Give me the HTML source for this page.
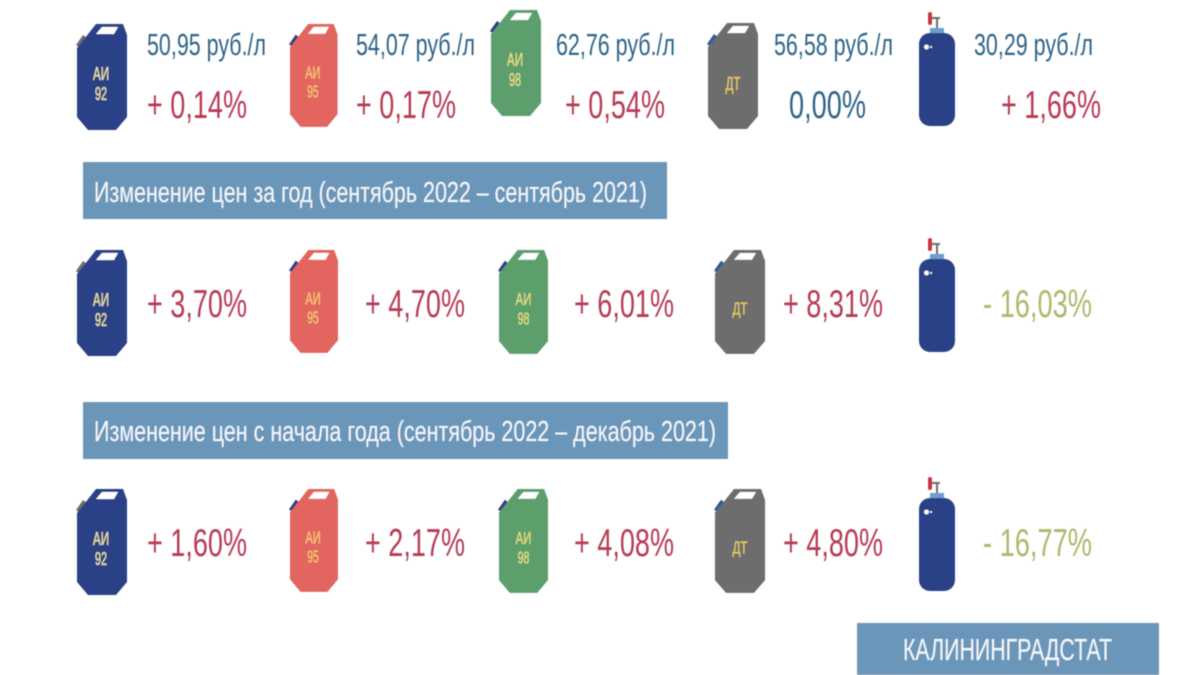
<!DOCTYPE html>
<html lang="ru">
<head>
<meta charset="utf-8">
<title>Цены на топливо</title>
<style>
html,body{margin:0;padding:0;background:#fff;width:1200px;height:675px;overflow:hidden}
svg{display:block}
text{font-family:"Liberation Sans","Noto Sans CJK SC",sans-serif}
.price{font-size:31px;fill:#2f6488}
.pct{font-size:39px}
.red{fill:#b83a55}
.blue{fill:#2f6488}
.green{fill:#a9bb6c}
.banner{fill:#6b96ba}
.btext{font-size:29px;fill:#f4f7fa}
.lab{font-size:18px;text-anchor:middle;stroke-width:.35px;paint-order:stroke}
</style>
</head>
<body>
<svg width="1200" height="675" viewBox="0 0 1200 675" xmlns="http://www.w3.org/2000/svg">
<defs>
<filter id="soft" x="-5%" y="-5%" width="110%" height="110%"><feGaussianBlur stdDeviation="0.5"/></filter>
<g id="can-body">
<path d="M0 24 L0 93 L11 106 L39 106 L50 93 L50 11 L46 0 L19 0 L8 14 Z"/>
<path d="M19 10 L25 3 L41 3 L37 10 Z" fill="#fff"/>
</g>
<path id="nozzle" d="M3 24 L-1 21 L6 11 L10 14 Z"/>
<g id="cylinder">
<rect x="9" y="0" width="4" height="13" rx="2" fill="#c9363f"/>
<rect x="17" y="5" width="2" height="12" fill="#6d6d6d"/>
<rect x="13" y="5" width="8" height="2" fill="#6d6d6d"/>
<rect x="11" y="16" width="14" height="6" fill="#6c9fd0"/>
<rect x="0" y="21" width="36" height="93" rx="11" fill="#2b4087"/>
<circle cx="7.5" cy="35" r="2.4" fill="#fff"/>
<circle cx="12" cy="35" r="1" fill="#fff"/>
</g>
</defs>
<rect width="1200" height="675" fill="#fff"/>
<g filter="url(#soft)">

<!-- Row 1 -->
<g>
<g transform="translate(77 24)"><use href="#nozzle" fill="#6d6d6d"/><use href="#can-body" fill="#2b4087"/><text class="lab" x="24" y="56" fill="#e6dfa0" stroke="#e6dfa0" textLength="16" lengthAdjust="spacingAndGlyphs">АИ</text><text class="lab" x="24" y="76" fill="#e6dfa0" stroke="#e6dfa0" textLength="12" lengthAdjust="spacingAndGlyphs">92</text></g>
<g transform="translate(290 24) scale(.95 .97)"><use href="#nozzle" fill="#2b4087"/><use href="#can-body" fill="#e2655e"/><text class="lab" x="24" y="56" fill="#f4c472" stroke="#f4c472" textLength="16" lengthAdjust="spacingAndGlyphs">АИ</text><text class="lab" x="24" y="76" fill="#f4c472" stroke="#f4c472" textLength="12" lengthAdjust="spacingAndGlyphs">95</text></g>
<g transform="translate(491 10)"><use href="#nozzle" fill="#2b4087"/><use href="#can-body" fill="#5b9f6c"/><text class="lab" x="24" y="56" fill="#e6dc82" stroke="#e6dc82" textLength="16" lengthAdjust="spacingAndGlyphs">АИ</text><text class="lab" x="24" y="76" fill="#e6dc82" stroke="#e6dc82" textLength="12" lengthAdjust="spacingAndGlyphs">98</text></g>
<g transform="translate(708 23)"><use href="#nozzle" fill="#2b5c9f"/><use href="#can-body" fill="#6d6d6d"/><text class="lab" x="25" y="67" fill="#e6c860" stroke="#e6c860" textLength="15" lengthAdjust="spacingAndGlyphs">ДТ</text></g>
<use href="#cylinder" x="919" y="12"/>

<text class="price" x="147" y="55" textLength="119" lengthAdjust="spacingAndGlyphs">50,95 руб./л</text>
<text class="price" x="356" y="55" textLength="119" lengthAdjust="spacingAndGlyphs">54,07 руб./л</text>
<text class="price" x="556" y="55" textLength="119" lengthAdjust="spacingAndGlyphs">62,76 руб./л</text>
<text class="price" x="774" y="55" textLength="119" lengthAdjust="spacingAndGlyphs">56,58 руб./л</text>
<text class="price" x="974" y="55" textLength="119" lengthAdjust="spacingAndGlyphs">30,29 руб./л</text>

<text class="pct red" x="147" y="118" textLength="100" lengthAdjust="spacingAndGlyphs">+ 0,14%</text>
<text class="pct red" x="356" y="118" textLength="100" lengthAdjust="spacingAndGlyphs">+ 0,17%</text>
<text class="pct red" x="565" y="118" textLength="100" lengthAdjust="spacingAndGlyphs">+ 0,54%</text>
<text class="pct blue" x="789" y="118" textLength="77" lengthAdjust="spacingAndGlyphs">0,00%</text>
<text class="pct red" x="1001" y="118" textLength="100" lengthAdjust="spacingAndGlyphs">+ 1,66%</text>
</g>

<!-- Banner 1 -->
<rect class="banner" x="83" y="162" width="584" height="57"/>
<text class="btext" x="94" y="202" textLength="553" lengthAdjust="spacingAndGlyphs">Изменение цен за год (сентябрь 2022 – сентябрь 2021)</text>

<!-- Row 2 -->
<g>
<g transform="translate(77 250)"><use href="#nozzle" fill="#6d6d6d"/><use href="#can-body" fill="#2b4087"/><text class="lab" x="24" y="56" fill="#e6dfa0" stroke="#e6dfa0" textLength="16" lengthAdjust="spacingAndGlyphs">АИ</text><text class="lab" x="24" y="76" fill="#e6dfa0" stroke="#e6dfa0" textLength="12" lengthAdjust="spacingAndGlyphs">92</text></g>
<g transform="translate(290 250) scale(.96 .97)"><use href="#nozzle" fill="#2b4087"/><use href="#can-body" fill="#e2655e"/><text class="lab" x="24" y="56" fill="#f4c472" stroke="#f4c472" textLength="16" lengthAdjust="spacingAndGlyphs">АИ</text><text class="lab" x="24" y="76" fill="#f4c472" stroke="#f4c472" textLength="12" lengthAdjust="spacingAndGlyphs">95</text></g>
<g transform="translate(499 250) scale(.98)"><use href="#nozzle" fill="#2b4087"/><use href="#can-body" fill="#5b9f6c"/><text class="lab" x="25" y="56" fill="#e6dc82" stroke="#e6dc82" textLength="16" lengthAdjust="spacingAndGlyphs">АИ</text><text class="lab" x="25" y="76" fill="#e6dc82" stroke="#e6dc82" textLength="12" lengthAdjust="spacingAndGlyphs">98</text></g>
<g transform="translate(715 250) scale(1 .98)"><use href="#nozzle" fill="#2b5c9f"/><use href="#can-body" fill="#6d6d6d"/><text class="lab" x="25" y="66" fill="#e6c860" stroke="#e6c860" textLength="15" lengthAdjust="spacingAndGlyphs">ДТ</text></g>
<use href="#cylinder" x="919" y="238"/>

<text class="pct red" x="147" y="317" textLength="100" lengthAdjust="spacingAndGlyphs">+ 3,70%</text>
<text class="pct red" x="365" y="317" textLength="100" lengthAdjust="spacingAndGlyphs">+ 4,70%</text>
<text class="pct red" x="574" y="317" textLength="100" lengthAdjust="spacingAndGlyphs">+ 6,01%</text>
<text class="pct red" x="783" y="317" textLength="100" lengthAdjust="spacingAndGlyphs">+ 8,31%</text>
<text class="pct green" x="983" y="317" textLength="109" lengthAdjust="spacingAndGlyphs">- 16,03%</text>
</g>

<!-- Banner 2 -->
<rect class="banner" x="83" y="402" width="645" height="57"/>
<text class="btext" x="94" y="441" textLength="622" lengthAdjust="spacingAndGlyphs">Изменение цен с начала года (сентябрь 2022 – декабрь 2021)</text>

<!-- Row 3 -->
<g>
<g transform="translate(77 489)"><use href="#nozzle" fill="#6d6d6d"/><use href="#can-body" fill="#2b4087"/><text class="lab" x="24" y="56" fill="#e6dfa0" stroke="#e6dfa0" textLength="16" lengthAdjust="spacingAndGlyphs">АИ</text><text class="lab" x="24" y="76" fill="#e6dfa0" stroke="#e6dfa0" textLength="12" lengthAdjust="spacingAndGlyphs">92</text></g>
<g transform="translate(290 489) scale(.96 .97)"><use href="#nozzle" fill="#2b4087"/><use href="#can-body" fill="#e2655e"/><text class="lab" x="24" y="56" fill="#f4c472" stroke="#f4c472" textLength="16" lengthAdjust="spacingAndGlyphs">АИ</text><text class="lab" x="24" y="76" fill="#f4c472" stroke="#f4c472" textLength="12" lengthAdjust="spacingAndGlyphs">95</text></g>
<g transform="translate(499 489) scale(.98)"><use href="#nozzle" fill="#2b4087"/><use href="#can-body" fill="#5b9f6c"/><text class="lab" x="25" y="56" fill="#e6dc82" stroke="#e6dc82" textLength="16" lengthAdjust="spacingAndGlyphs">АИ</text><text class="lab" x="25" y="76" fill="#e6dc82" stroke="#e6dc82" textLength="12" lengthAdjust="spacingAndGlyphs">98</text></g>
<g transform="translate(715 489) scale(1 .98)"><use href="#nozzle" fill="#2b5c9f"/><use href="#can-body" fill="#6d6d6d"/><text class="lab" x="25" y="66" fill="#e6c860" stroke="#e6c860" textLength="15" lengthAdjust="spacingAndGlyphs">ДТ</text></g>
<use href="#cylinder" x="919" y="477"/>

<text class="pct red" x="147" y="556" textLength="100" lengthAdjust="spacingAndGlyphs">+ 1,60%</text>
<text class="pct red" x="365" y="556" textLength="100" lengthAdjust="spacingAndGlyphs">+ 2,17%</text>
<text class="pct red" x="574" y="556" textLength="100" lengthAdjust="spacingAndGlyphs">+ 4,08%</text>
<text class="pct red" x="783" y="556" textLength="100" lengthAdjust="spacingAndGlyphs">+ 4,80%</text>
<text class="pct green" x="983" y="556" textLength="109" lengthAdjust="spacingAndGlyphs">- 16,77%</text>
</g>

<!-- Footer -->
<rect class="banner" x="857" y="623" width="302" height="52"/>
<text x="903" y="660" font-size="31" fill="#f4f7fa" textLength="209" lengthAdjust="spacingAndGlyphs">КАЛИНИНГРАДСТАТ</text>
</g>
</svg>
</body>
</html>
